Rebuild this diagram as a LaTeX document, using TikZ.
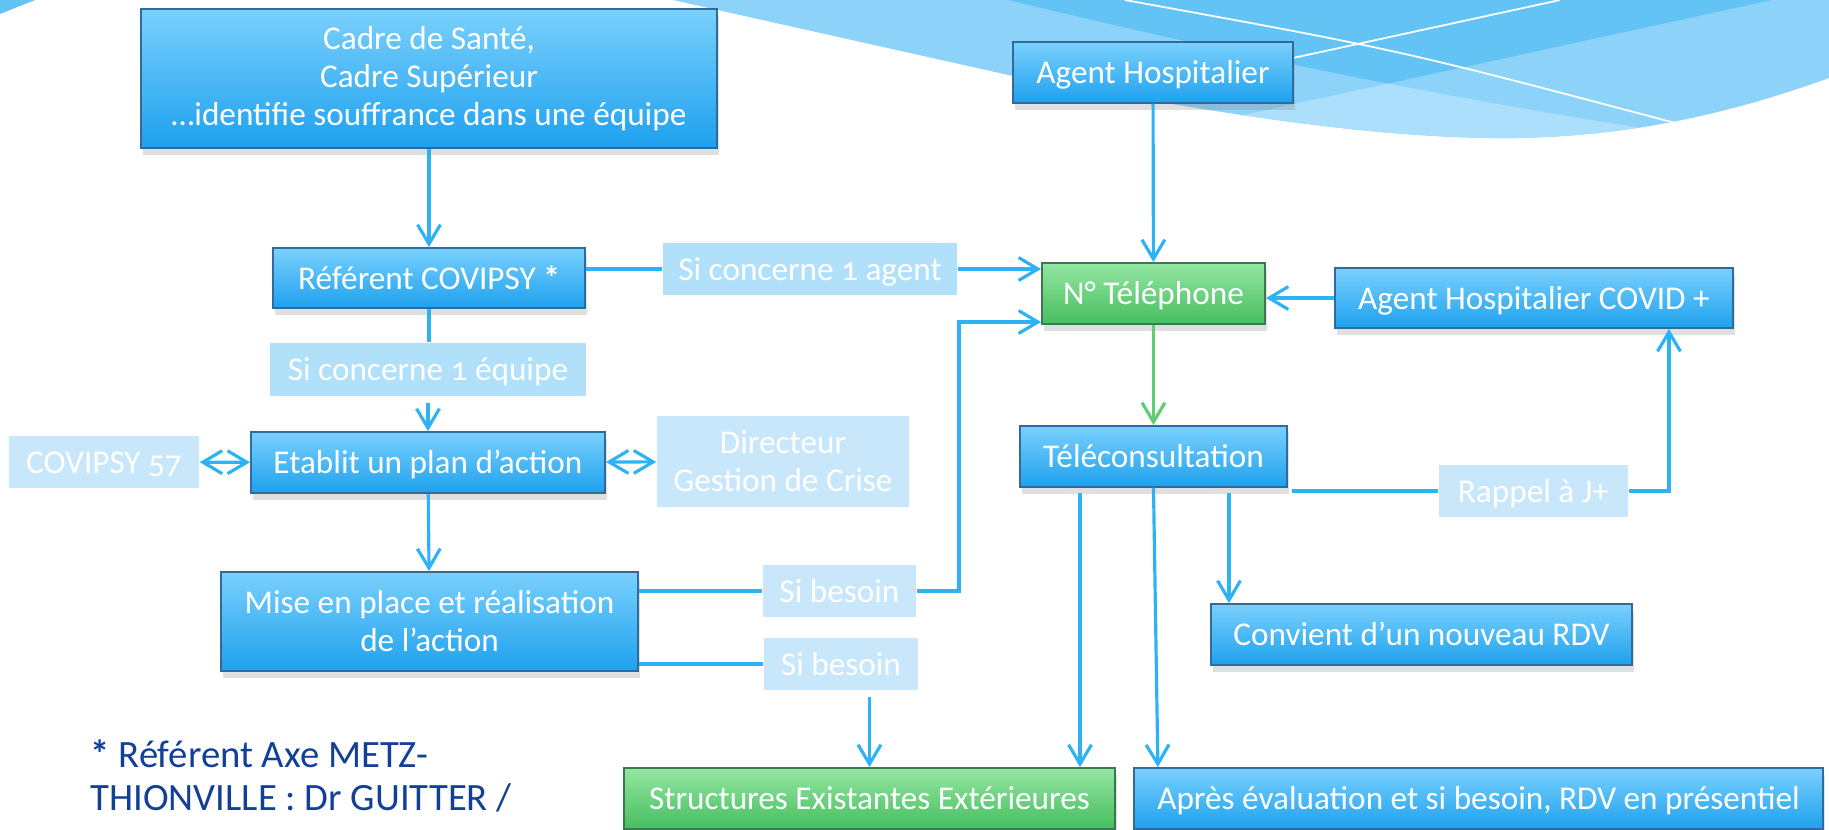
\documentclass[tikz,border=0pt]{standalone}
\usepackage{fontspec}
\setmainfont{Carlito}[Numbers=OldStyle]
\usepackage{tikz}
\usetikzlibrary{arrows.meta,shadows,calc}
\definecolor{sky top}{RGB}{122,208,253}
\definecolor{sky bottom}{RGB}{30,161,238}
\definecolor{sky edge}{RGB}{47,108,156}
\definecolor{leaf top}{RGB}{148,230,162}
\definecolor{leaf bottom}{RGB}{70,190,95}
\definecolor{leaf edge}{RGB}{60,120,80}
\definecolor{pale blue}{RGB}{176,224,250}
\definecolor{paler blue}{RGB}{200,231,250}
\definecolor{line blue}{RGB}{45,178,245}
\definecolor{line green}{RGB}{95,205,115}
\definecolor{wave mid}{RGB}{141,210,248}
\definecolor{wave dark}{RGB}{100,195,245}
\definecolor{wave light}{RGB}{172,223,251}
\definecolor{note blue}{RGB}{18,64,150}

\begin{document}
\begin{tikzpicture}[x=0.01cm, y=-0.01cm,
    every node/.style={font=\fontsize{9.45}{10.8}\selectfont, text=white, inner sep=0pt},
    oneline/.style={text height=0.65em, text depth=0pt},
    bluebox/.style={draw=sky edge, line width=0.5pt, top color=sky top, bottom color=sky bottom,
      drop shadow={shadow xshift=0.5pt, shadow yshift=-2pt, opacity=0.25}},
    greenbox/.style={draw=leaf edge, line width=0.5pt, top color=leaf top, bottom color=leaf bottom,
      drop shadow={shadow xshift=0.5pt, shadow yshift=-2pt, opacity=0.25}},
    palebox/.style={fill=pale blue},
    palerbox/.style={fill=paler blue},
    link/.style={draw=line blue, line width=0.9pt},
    greenlink/.style={draw=line green, line width=0.9pt},
    >={Straight Barb[length=5.5pt, width=6.5pt]}]
  \useasboundingbox (0,0) rectangle (1829,829);
  % background wave
  \fill[wave dark] (0,0) -- (35,0) -- (0,14) -- cycle;
  \begin{scope}
    \clip (673,0) -- (1013,76) .. controls (1150,100) and (1350,140) .. (1516,138)
      .. controls (1640,136) and (1740,110) .. (1829,78) -- (1829,0) -- cycle;
    \fill[wave mid] (600,0) rectangle (1829,150);
    \begin{scope}
      \clip (1008,0) .. controls (1250,58) and (1450,100) .. (1720,140) -- (1829,140) -- (1829,0) -- cycle;
      \fill[wave dark] (1000,0) -- (1772,0) -- (1000,168) -- cycle;
    \end{scope}
    \begin{scope}
      \clip (600,0) -- (1008,0) .. controls (1250,58) and (1450,100) .. (1720,140) -- (1720,160) -- (600,160) -- cycle;
      \fill[wave light] (1000,168) -- (1772,0) -- (1829,0) -- (1829,168) -- cycle;
    \end{scope}
    \draw[white, line width=0.5pt] (1125,0) .. controls (1400,50) .. (1679,124);
    \draw[white, line width=0.5pt] (1293,58) -- (1560,0);
  \end{scope}

  % left column
  \node[bluebox, align=center, minimum width=5.76cm, minimum height=1.39cm] (cadre) at (429,78.5)
    {Cadre de Santé,\\Cadre Supérieur\\…identifie souffrance dans une équipe};
  \node[bluebox, oneline, minimum width=3.12cm, minimum height=0.60cm] (referent) at (429,278) {Référent COVIPSY \textbf{*}};
  \node[palebox, oneline, minimum width=2.94cm, minimum height=0.52cm] (si agent) at (810,269) {Si concerne 1 agent};
  \node[palebox, oneline, minimum width=3.16cm, minimum height=0.53cm] (si equipe) at (428,369.5) {Si concerne 1 équipe};
  \node[palerbox, oneline, minimum width=1.90cm, minimum height=0.52cm] (covipsy) at (104,462) {COVIPSY 57};
  \node[bluebox, oneline, minimum width=3.54cm, minimum height=0.61cm] (plan) at (428,462.5) {Etablit un plan d’action};
  \node[palerbox, align=center, minimum width=2.52cm, minimum height=0.91cm] (directeur) at (783,461.5)
    {Directeur\\Gestion de Crise};
  \node[bluebox, align=center, minimum width=4.17cm, minimum height=0.99cm] (mise) at (429.5,621.5)
    {Mise en place et réalisation\\de l’action};
  \node[palerbox, oneline, minimum width=1.53cm, minimum height=0.52cm] (besoin A) at (839.5,591) {Si besoin};
  \node[palerbox, oneline, minimum width=1.54cm, minimum height=0.52cm] (besoin B) at (841,664) {Si besoin};

  % right column
  \node[bluebox, oneline, minimum width=2.80cm, minimum height=0.61cm] (agent) at (1153,72.5) {Agent Hospitalier};
  \node[greenbox, oneline, minimum width=2.23cm, minimum height=0.61cm] (tel) at (1153.5,293.5) {N° Téléphone};
  \node[bluebox, oneline, minimum width=3.98cm, minimum height=0.60cm] (covid) at (1534,298) {Agent Hospitalier COVID +};
  \node[bluebox, oneline, minimum width=2.67cm, minimum height=0.61cm] (telecons) at (1153.5,456.5) {Téléconsultation};
  \node[palerbox, oneline, minimum width=1.89cm, minimum height=0.52cm] (rappel) at (1533.5,491) {Rappel à J+};
  \node[bluebox, oneline, minimum width=4.21cm, minimum height=0.61cm] (convient) at (1421.5,634.5) {Convient d’un nouveau RDV};
  \node[greenbox, oneline, minimum width=4.91cm, minimum height=0.61cm] (structures) at (869.5,798.5) {Structures Existantes Extérieures};
  \node[bluebox, oneline, minimum width=6.89cm, minimum height=0.61cm] (apres) at (1478.5,798.5) {Après évaluation et si besoin, RDV en présentiel};

  % footnote
  \node[anchor=base west, text=note blue, font=\fontsize{11}{12.2}\selectfont] (note A) at (90,767) {\textbf{*} Référent Axe METZ-};
  \node[anchor=base west, text=note blue, font=\fontsize{11}{12.2}\selectfont] (note B) at (90,810) {THIONVILLE : Dr GUITTER /};

  % connectors
  \coordinate (loop up) at (959,322);
  \coordinate (recall up) at (1669,491);
  \coordinate (to structures) at ($(structures.north east)+(-36,0)$);
  \coordinate (to apres) at ($(apres.north west)+(25,0)$);
  \coordinate (to convient) at ($(convient.north west)+(19,0)$);
  \draw[link,->] (cadre) -- (referent);
  \draw[link] (referent.south) -- (referent.south |- si equipe.north);
  \draw[link,->, shorten <=0.06cm] (si equipe.south) -- (si equipe.south |- plan.north);
  \draw[link,<->] (covipsy) -- (plan);
  \draw[link,<->] (plan) -- (directeur);
  \draw[link,->] (plan) -- (mise);
  \draw[link] (mise.east |- besoin A.west) -- (besoin A);
  \draw[link,->] (besoin A.east) -| (loop up) -- (loop up -| tel.west);
  \draw[link] (mise.east |- besoin B.west) -- (besoin B);
  \draw[link,->, shorten <=0.06cm] (besoin B.south -| structures.north) -- (structures);
  \draw[link] (referent.east |- si agent.west) -- (si agent);
  \draw[link,->] (si agent.east) -- (si agent.east -| tel.west);
  \draw[link,->] (agent) -- (tel);
  \draw[link,->] (covid.west) -- (covid.west -| tel.east);
  \draw[greenlink,->] (tel) -- (telecons);
  \draw[link, shorten <=0.04cm] (telecons.east |- rappel.west) -- (rappel);
  \draw[link,->] (rappel.east) -- (recall up) -- (recall up |- covid.south);
  \draw[link,->, shorten <=0.05cm] (telecons.south -| to structures) -- (to structures);
  \draw[link,->] (telecons.south) -- (to apres);
  \draw[link,->, shorten <=0.05cm] (telecons.south -| to convient) -- (to convient);
\end{tikzpicture}
\end{document}
